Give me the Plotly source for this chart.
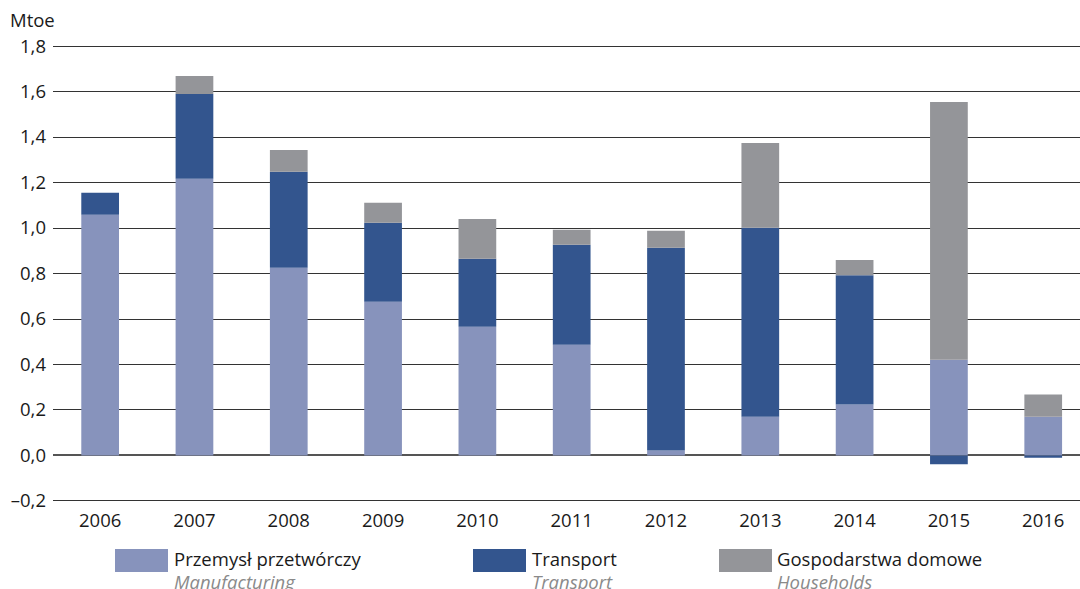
import plotly.graph_objects as go

years = ["2006", "2007", "2008", "2009", "2010", "2011", "2012", "2013", "2014", "2015", "2016"]
manufacturing = [1.058, 1.216, 0.825, 0.676, 0.566, 0.487, 0.022, 0.170, 0.224, 0.421, 0.170]
transport = [0.097, 0.373, 0.422, 0.347, 0.299, 0.439, 0.891, 0.831, 0.568, -0.038, -0.010]
households = [0.0, 0.079, 0.096, 0.088, 0.175, 0.066, 0.075, 0.373, 0.067, 1.133, 0.098]

series_pl = ["Przemysł przetwórczy", "Transport", "Gospodarstwa domowe"]
series_en = ["Manufacturing", "Transport", "Households"]
colors = ["#8793BC", "#33558E", "#949599"]

y_ticks = [-0.2, 0.0, 0.2, 0.4, 0.6, 0.8, 1.0, 1.2, 1.4, 1.6, 1.8]
y_ticktext = ["\u20130,2", "0,0", "0,2", "0,4", "0,6", "0,8", "1,0", "1,2", "1,4", "1,6", "1,8"]

FONT = "Open Sans"
FS = 18.5
TXT = "#1a1a1a"

W, H = 1080, 589
L, R, T, B = 53, 0, 45, 87
pw, ph = W - L - R, H - T - B

def px(x):
    return (x - L) / pw

def py(y):
    return (H - B - y) / ph

fig = go.Figure()
for vals, name, col in zip([manufacturing, transport, households], series_pl, colors):
    fig.add_trace(go.Bar(
        x=list(range(len(years))), y=vals, name=name,
        marker=dict(color=col, line=dict(width=0)),
        width=0.4, showlegend=False, hoverinfo="skip",
    ))

fig.update_layout(
    width=W, height=H,
    barmode="relative",
    plot_bgcolor="white", paper_bgcolor="white",
    margin=dict(l=L, r=R, t=T, b=B),
    font=dict(family=FONT, size=FS, color=TXT),
    xaxis=dict(
        range=[-0.5, 10.39], tickmode="array",
        tickvals=list(range(len(years))), ticktext=years,
        showgrid=False, zeroline=False, showline=False,
        ticks="", ticklabelstandoff=5,
        tickfont=dict(family=FONT, size=FS, color=TXT),
    ),
    yaxis=dict(
        range=[-0.2045, 1.8045], tickmode="array",
        tickvals=y_ticks, ticktext=y_ticktext,
        showgrid=True, gridcolor="#333333", gridwidth=1,
        zeroline=True, zerolinecolor="#555555", zerolinewidth=2,
        showline=False, ticks="", ticklabelstandoff=6,
        tickfont=dict(family=FONT, size=FS, color=TXT),
    ),
)

fig.add_annotation(
    text="Mtoe", x=px(8), y=py(20), xref="paper", yref="paper",
    showarrow=False, xanchor="left", yanchor="middle",
    font=dict(family=FONT, size=FS, color=TXT),
)

swatch_x = [115, 473, 719]
text_x = [172, 530, 775]
for i in range(3):
    fig.add_shape(
        type="rect", xref="paper", yref="paper",
        x0=px(swatch_x[i]), x1=px(swatch_x[i] + 53),
        y0=py(572), y1=py(549),
        fillcolor=colors[i], line=dict(width=0),
    )
    fig.add_annotation(
        text=series_pl[i], x=px(text_x[i]), y=py(558),
        xref="paper", yref="paper", showarrow=False,
        xanchor="left", yanchor="middle",
        font=dict(family=FONT, size=FS, color=TXT),
    )
    fig.add_annotation(
        text="<i>" + series_en[i] + "</i>", x=px(text_x[i]), y=py(581),
        xref="paper", yref="paper", showarrow=False,
        xanchor="left", yanchor="middle",
        font=dict(family=FONT, size=FS, color="#8a8a8a"),
    )

fig.write_html(
    "out.html",
    config={"displayModeBar": False, "staticPlot": True},
    post_script="document.body.style.margin='0';document.body.style.overflow='hidden';",
)
